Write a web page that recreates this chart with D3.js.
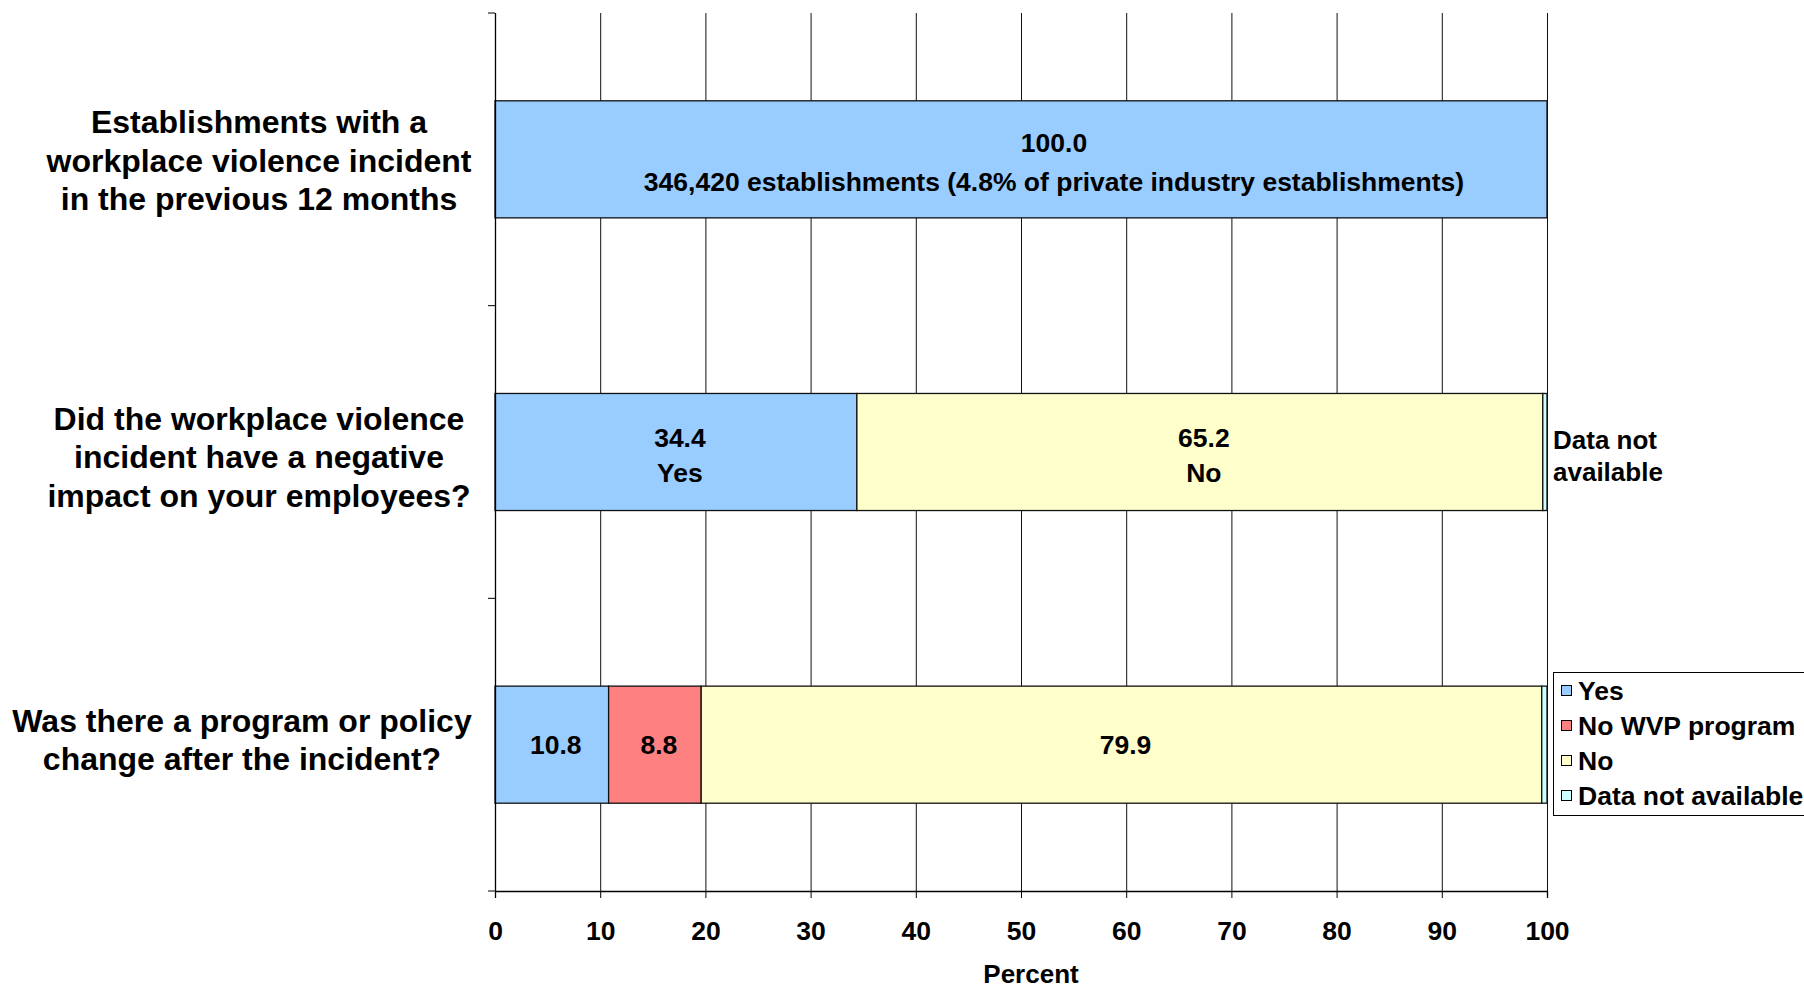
<!DOCTYPE html>
<html>
<head>
<meta charset="utf-8">
<script src="https://cdn.jsdelivr.net/npm/d3@7"></script>
<style>
  body { margin: 0; background: #fff; }
  svg text { font-family: "Liberation Sans", Arial, sans-serif; font-weight: bold; fill: #000; }
</style>
</head>
<body>
<svg id="chart" width="1804" height="988"></svg>
<script>

// chart data
var categories   = ["q1", "q2", "q3"];
var catLabels    = [["Establishments with a", "workplace violence incident", "in the previous 12 months"],
		    ["Did the workplace violence", "incident have a negative", "impact on your employees?"],
		    ["Was there a program or policy", "change after the incident?"]];
var seriesNames  = ["Yes", "No WVP program", "No", "Data not available"];
var seriesColors = ["#99ccff", "#ff8080", "#ffffcc", "#ccffff"];
var yesVals      = [100.0, 34.4, 10.8];
var noWvpVals    = [0, 0, 8.8];
var noVals       = [0, 65.2, 79.9];
var naVals       = [0, 0.4, 0.5];
var xTicks       = [0, 10, 20, 30, 40, 50, 60, 70, 80, 90, 100];

// label text inside bars, per category and series
var barLabels = [
    [["100.0", "346,420 establishments (4.8% of private industry establishments)"], null, null, null],
    [["34.4", "Yes"], null, ["65.2", "No"], null],
    [["10.8"], ["8.8"], ["79.9"], null]
];
var outsideNote = ["Data not", "available"];

// small nudges of the category text blocks (x centre, y shift)
var catTextX     = [259, 259, 242];
var catTextShift = [1, 5, -5];

function buildrows() {
    var rows = [];
    for(var kk = 0; kk < categories.length; kk++) {
	rows.push({cat: categories[kk], s0: yesVals[kk], s1: noWvpVals[kk], s2: noVals[kk], s3: naVals[kk]});
    }
    return rows;
}

function draw() {

    var svg    = d3.select("#chart");
    var left   = 495, right = 1547, top = 13, bottom = 891;
    var rows   = buildrows();
    var keys   = ["s0", "s1", "s2", "s3"];

    var xScale = d3.scaleLinear().domain([0, 100]).range([left, right]);
    var yScale = d3.scaleBand()
	.domain(categories)
	.range([top, bottom])
	.paddingInner(0.6)
	.paddingOuter(0.3);

    var stack  = d3.stack().keys(keys)(rows);

    // vertical gridlines
    svg.append("g")
	.selectAll("line")
	.data(xTicks.slice(1))
	.enter()
	.append("line")
	.attr("x1", function(d) { return xScale(d) + 0.5; })
	.attr("x2", function(d) { return xScale(d) + 0.5; })
	.attr("y1", top)
	.attr("y2", bottom)
	.style("stroke", "#111")
	.style("stroke-width", 1);

    // bars
    var g = svg.append("g");
    stack.forEach(function(layer, si) {
	g.selectAll(".bar" + si)
	    .data(layer.filter(function(d) { return d[1] - d[0] > 0; }))
	    .enter()
	    .append("rect")
	    .attr("class", "bar" + si)
	    .attr("x", function(d) { return xScale(d[0]); })
	    .attr("y", function(d) { return yScale(d.data.cat); })
	    .attr("width", function(d) { return xScale(d[1]) - xScale(d[0]); })
	    .attr("height", yScale.bandwidth())
	    .style("fill", seriesColors[si])
	    .style("stroke", "#111")
	    .style("stroke-width", 1.3);
    });

    // labels in bars
    stack.forEach(function(layer, si) {
	layer.forEach(function(d, ci) {
	    var lines = barLabels[ci][si];
	    if (!lines) return;
	    var cx = xScale((d[0] + d[1]) / 2) + 4;
	    if (ci == 0) cx = cx + 29;
	    var cy = yScale(d.data.cat) + yScale.bandwidth() / 2;
	    if (lines.length > 1) cy = cy + 3;
	    var gap = (ci == 0) ? 39 : 35;
	    lines.forEach(function(t, li) {
		svg.append("text")
		    .attr("x", cx)
		    .attr("y", cy + (li - (lines.length - 1) / 2) * gap)
		    .attr("dy", "0.35em")
		    .attr("text-anchor", "middle")
		    .style("font-size", "26.5px")
		    .text(t);
	    });
	});
    });

    // note for data not available on the second bar
    outsideNote.forEach(function(t, li) {
	svg.append("text")
	    .attr("x", right + 6)
	    .attr("y", yScale(categories[1]) + yScale.bandwidth() / 2 - 12 + li * 32)
	    .attr("dy", "0.35em")
	    .style("font-size", "26px")
	    .text(t);
    });

    // y axis with ticks at band edges
    var step  = yScale.step();
    var edges = [0, 1, 2, 3].map(function(k) { return top + k * step; });
    var ya = svg.append("g");
    ya.append("line")
	.attr("x1", left + 0.5).attr("x2", left + 0.5)
	.attr("y1", top).attr("y2", bottom)
	.style("stroke", "#000").style("stroke-width", 1.3);
    ya.selectAll(".ytick")
	.data(edges)
	.enter()
	.append("line")
	.attr("x1", left - 7).attr("x2", left)
	.attr("y1", function(d) { return d; })
	.attr("y2", function(d) { return d; })
	.style("stroke", "#000");

    // category labels
    categories.forEach(function(c, ci) {
	var lines = catLabels[ci];
	var cy = yScale(c) + yScale.bandwidth() / 2 + catTextShift[ci];
	lines.forEach(function(t, li) {
	    svg.append("text")
		.attr("x", catTextX[ci])
		.attr("y", cy + (li - (lines.length - 1) / 2) * 38.5)
		.attr("dy", "0.35em")
		.attr("text-anchor", "middle")
		.style("font-size", "32px")
		.text(t);
	});
    });

    // x axis
    var xAxis = d3.axisBottom(xScale).tickValues(xTicks).tickSize(7).tickPadding(23);
    var gx = svg.append("g")
	.attr("transform", "translate(0," + bottom + ")")
	.call(xAxis);
    gx.select(".domain").style("stroke", "#000").style("stroke-width", 1.3);
    gx.selectAll(".tick line").style("stroke", "#000");
    gx.selectAll(".tick text")
	.style("font-size", "26.5px")
	.style("font-family", "'Liberation Sans', Arial, sans-serif")
	.style("font-weight", "bold")
	.attr("fill", "#000");

    svg.append("text")
	.attr("x", 1031)
	.attr("y", 974)
	.attr("dy", "0.35em")
	.attr("text-anchor", "middle")
	.style("font-size", "26px")
	.text("Percent");

    // legend
    var lg = svg.append("g").attr("transform", "translate(1553,672)");
    lg.append("rect")
	.attr("x", 0.5).attr("y", 0.5)
	.attr("width", 300).attr("height", 143)
	.style("fill", "#fff")
	.style("stroke", "#000");
    seriesNames.forEach(function(n, si) {
	var yy = 19 + si * 35;
	lg.append("rect")
	    .attr("x", 8.5).attr("y", yy - 5.5)
	    .attr("width", 10).attr("height", 10)
	    .style("fill", seriesColors[si])
	    .style("stroke", "#000");
	lg.append("text")
	    .attr("x", 25)
	    .attr("y", yy)
	    .attr("dy", "0.35em")
	    .style("font-size", "26.5px")
	    .text(n);
    });
}

draw();

</script>
</body>
</html>
